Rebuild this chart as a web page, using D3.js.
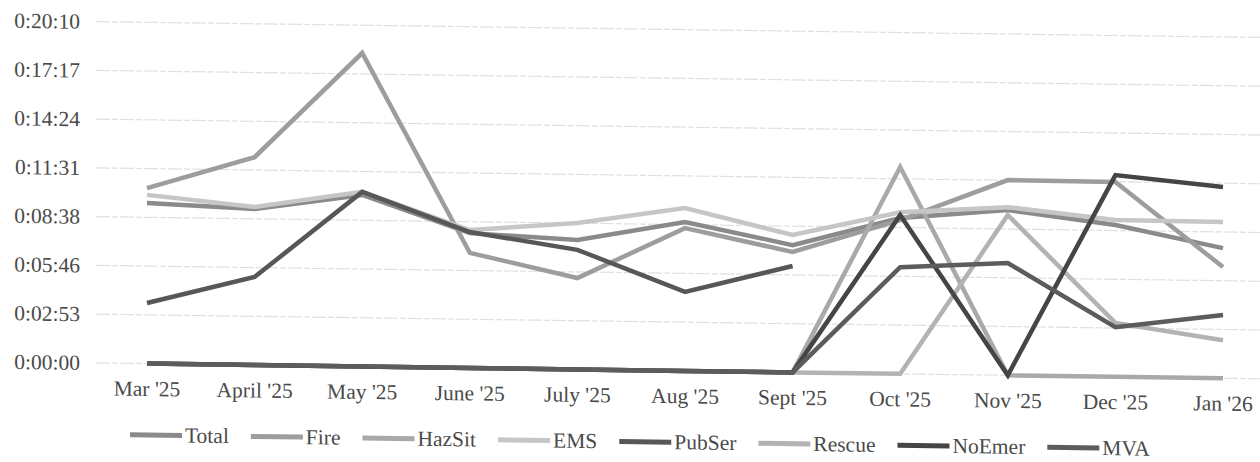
<!DOCTYPE html>
<html>
<head>
<meta charset="utf-8">
<script src="https://d3js.org/d3.v7.min.js"></script>
<style>
  body { margin: 0; background: #fff; }
</style>
</head>
<body>
<script>

// categories and tick labels
var months = ["Mar '25", "April '25", "May '25", "June '25", "July '25", "Aug '25", "Sept '25", "Oct '25", "Nov '25", "Dec '25", "Jan '26"];
var tickLabels = ["0:00:00", "0:02:53", "0:05:46", "0:08:38", "0:11:31", "0:14:24", "0:17:17", "0:20:10"];
var tickStep = 172.8; // seconds between gridlines

// response times in seconds, null = no data
var total  = [569, 553, 608, 478, 459, 528, 451, 552, 586, 538, 461];
var fire   = [622, 737, 1111, 408, 324, 506, 427, 545, 692, 690, 394];
var hazSit = [0, 0, 0, 0, 0, 0, 0, 733, 0, 0, 0];
var ems    = [598, 560, 619, 489, 519, 577, 487, 573, 596, 556, 554];
var pubSer = [215, 312, 619, 482, 424, 280, 377, null, null, null, null];
var rescue = [0, 0, 0, 0, 0, 0, 0, 0, 568, 191, 135];
var noEmer = [0, 0, 0, 0, 0, 0, 0, 563, 0, 715, 678];
var mva    = [0, 0, 0, 0, 0, 0, 0, 378, 398, 176, 224];

var seriesNames = ["Total", "Fire", "HazSit", "EMS", "PubSer", "Rescue", "NoEmer", "MVA"];
var seriesValues = [total, fire, hazSit, ems, pubSer, rescue, noEmer, mva];
var lineColors = ["#8a8a8a", "#9d9d9d", "#a9a9a9", "#c6c6c6", "#575757", "#b3b3b3", "#454545", "#5c5c5c"];

var width = 1260, height = 462;
var font = "'Liberation Serif', 'Times New Roman', 'DejaVu Serif', serif";
var fontSize = 21.5;

var svg = d3.select("body").append("svg")
  .attr("width", width).attr("height", height);

svg.append("rect").attr("width", width).attr("height", height).attr("fill", "#fff");

// the scan is slightly tilted, right side lower
var g = svg.append("g")
  .attr("transform", "skewY(0.78)")
  .attr("font-family", font)
  .attr("fill", "#4a4a4a");

var x = d3.scalePoint().domain(months).range([147, 1223]);
var y = d3.scaleLinear().domain([0, tickStep * 7]).range([361.6, 20.3]);

// gridlines + y labels
var yTicks = tickLabels.map(function(d, i) { return i * tickStep; });

g.append("g").selectAll("line")
  .data(yTicks)
  .enter().append("line")
    .attr("x1", 96).attr("x2", 1275)
    .attr("y1", function(d) { return y(d); })
    .attr("y2", function(d) { return y(d); })
    .attr("stroke", "#e0e0e0")
    .attr("stroke-width", 1.2)
    .attr("stroke-dasharray", "14,2,6,2");

g.append("g").selectAll("text")
  .data(yTicks)
  .enter().append("text")
    .attr("x", 80)
    .attr("y", function(d) { return y(d); })
    .attr("dy", "0.34em")
    .attr("text-anchor", "end")
    .attr("font-family", font)
    .attr("font-size", fontSize)
    .text(function(d, i) { return tickLabels[i]; });

// x labels
g.append("g").selectAll("text")
  .data(months)
  .enter().append("text")
    .attr("x", function(d) { return x(d); })
    .attr("y", 394)
    .attr("text-anchor", "middle")
    .attr("font-family", font)
    .attr("font-size", fontSize)
    .text(function(d) { return d; });

// lines
var line = d3.line()
  .defined(function(d) { return d != null; })
  .x(function(d, i) { return x(months[i]); })
  .y(function(d) { return y(d); });

g.append("g").selectAll("path")
  .data(seriesValues)
  .enter().append("path")
    .attr("d", line)
    .attr("fill", "none")
    .attr("stroke", function(d, i) { return lineColors[i]; })
    .attr("stroke-width", 4.5)
    .attr("stroke-linejoin", "miter")
    .attr("stroke-linecap", "butt");

// legend
var legend = g.append("g");
var lx = 130;
seriesNames.forEach(function(name, i) {
  legend.append("line")
    .attr("x1", lx).attr("x2", lx + 52)
    .attr("y1", 433).attr("y2", 433)
    .attr("stroke", lineColors[i])
    .attr("stroke-width", 5);
  var t = legend.append("text")
    .attr("x", lx + 55)
    .attr("y", 440)
    .attr("font-family", font)
    .attr("font-size", fontSize)
    .text(name);
  lx = lx + 55 + t.node().getComputedTextLength() + 22;
});

</script>
</body>
</html>
